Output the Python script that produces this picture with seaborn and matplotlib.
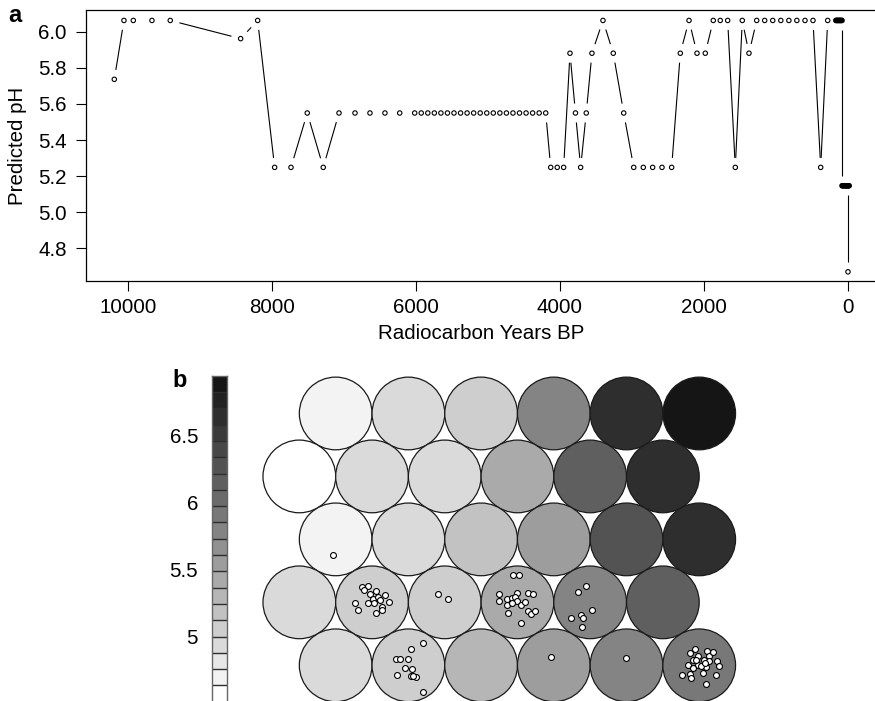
import numpy as np
import matplotlib
matplotlib.use("Agg")
import matplotlib.pyplot as plt
import seaborn as sns
from matplotlib.collections import LineCollection
from matplotlib.patches import Circle
from matplotlib.colors import LinearSegmentedColormap, BoundaryNorm

# ---------------- data: panel a ----------------
age_bp = [10190, 10056, 9926, 9667, 9413, 8435, 8199, 7963, 7736, 7510, 7288, 7069,
          6847, 6639, 6431, 6226,
          6018, 5927, 5836, 5745, 5654, 5563, 5472, 5381, 5290, 5199, 5108, 5017,
          4926, 4835, 4744, 4653, 4562, 4471, 4380, 4289, 4198,
          4129, 4038, 3949, 3861, 3785, 3713, 3635, 3556, 3403, 3260, 3115, 2976,
          2843, 2713, 2583, 2449, 2329, 2208, 2097, 1982, 1871, 1774, 1671, 1565,
          1468, 1375, 1268, 1157, 1045, 933, 821, 710, 597, 486, 379, 282,
          169, 161, 153, 145, 137, 129, 121, 113, 105, 97, 90, 83,
          83, 74, 65, 56, 47, 38, 29, 20, 11, 2, -7, -17, 0,
          0]
predicted_ph = [5.737, 6.064, 6.064, 6.064, 6.064, 5.963, 6.064, 5.248, 5.248, 5.55, 5.248, 5.55,
                5.55, 5.55, 5.55, 5.55,
                5.55, 5.55, 5.55, 5.55, 5.55, 5.55, 5.55, 5.55, 5.55, 5.55, 5.55, 5.55,
                5.55, 5.55, 5.55, 5.55, 5.55, 5.55, 5.55, 5.55, 5.55,
                5.248, 5.248, 5.248, 5.882, 5.55, 5.248, 5.55, 5.882, 6.064, 5.882, 5.55, 5.248,
                5.248, 5.248, 5.248, 5.248, 5.882, 6.064, 5.882, 5.882, 6.064, 6.064, 6.064, 5.248,
                6.064, 5.882, 6.064, 6.064, 6.064, 6.064, 6.064, 6.064, 6.064, 6.064, 5.248, 6.064,
                6.064, 6.064, 6.064, 6.064, 6.064, 6.064, 6.064, 6.064, 6.064, 6.064, 6.064, 6.064,
                5.146, 5.146, 5.146, 5.146, 5.146, 5.146, 5.146, 5.146, 5.146, 5.146, 5.146, 5.146, 5.146,
                4.668]
x_ticks = [10000, 8000, 6000, 4000, 2000, 0]
y_ticks = [4.8, 5.0, 5.2, 5.4, 5.6, 5.8, 6.0]
y_ticklabels = ["4.8", "5.0", "5.2", "5.4", "5.6", "5.8", "6.0"]

# ---------------- data: panel b (SOM, 5 rows x 6 cols, top row first) ----------------
som_ph = [
    [4.70, 4.94, 5.06, 5.79, 6.64, 6.88],
    [4.58, 4.94, 4.93, 5.43, 6.15, 6.64],
    [4.70, 4.95, 5.18, 5.55, 6.27, 6.63],
    [4.94, 5.06, 5.07, 5.42, 5.79, 6.15],
    [4.94, 5.06, 5.30, 5.55, 5.78, 5.91],
]
# mapped samples: unit row, unit col and jitter within the unit (grid units)
sample_row = [3]*17 + [3]*2 + [3]*20 + [3]*7 + [4]*12 + [4] + [4] + [4]*24 + [2]
sample_col = [1]*17 + [2]*2 + [3]*20 + [4]*7 + [1]*12 + [3] + [4] + [5]*24 + [0]
sample_dx = [-0.14, -0.05, 0.05, -0.03, 0.18, 0.02, 0.08, 0.23, -0.24, -0.06, 0.03, 0.14, -0.19, 0.05, 0.14, 0.11, -0.11,
             -0.09, 0.05,
             -0.06, 0.02, -0.25, -0.14, -0.25, -0.15, -0.08, -0.01, -0.04, 0.00, -0.08, 0.14, 0.22, 0.05, 0.10, 0.14, 0.19, 0.24, -0.13, 0.05,
             -0.06, -0.17, -0.12, -0.10, -0.26, 0.03, -0.11,
             0.20, 0.04, -0.17, -0.11, -0.01, -0.04, 0.05, -0.15, 0.03, 0.10, 0.06, 0.20,
             -0.04,
             -0.01,
             -0.06, -0.13, 0.11, -0.01, 0.14, -0.08, 0.06, 0.13, 0.24, -0.16, -0.02, 0.10, 0.27, -0.09, 0.03, 0.05, -0.24, -0.12, 0.23, -0.11, 0.09, 0.19, -0.04, 0.08,
             -0.04]
sample_dy = [0.21, 0.22, 0.16, 0.11, 0.10, 0.05, 0.08, 0.01, -0.01, -0.01, -0.01, -0.06, -0.10, -0.14, -0.10, 0.03, 0.17,
             0.11, 0.05,
             0.37, 0.37, 0.11, 0.04, 0.02, -0.03, 0.06, 0.13, 0.08, 0.02, -0.01, 0.13, 0.11, -0.04, 0.01, -0.12, -0.16, -0.12, -0.14, -0.28,
             0.22, 0.14, -0.17, -0.21, -0.22, -0.11, -0.34,
             0.31, 0.23, 0.08, 0.08, 0.09, -0.04, -0.05, -0.14, -0.15, -0.16, -0.15, -0.37,
             0.11,
             0.10,
             0.23, 0.17, 0.19, 0.13, 0.13, 0.07, 0.07, 0.06, 0.06, 0.00, 0.01, -0.02, -0.01, -0.04, -0.01, -0.10, -0.13, -0.12, -0.14, -0.18, -0.26, 0.18, 0.07, 0.03,
             -0.21]
cbar_ticks = [5, 5.5, 6, 6.5]
cbar_ticklabels = ["5", "5.5", "6", "6.5"]
cbar_range = (4.517, 6.941)
cbar_levels = 20

# ---------------- style ----------------
sns.set_theme(style="white")
plt.rcParams["font.family"] = ["Liberation Sans", "DejaVu Sans"]
plt.rcParams["text.color"] = "black"
FS = 14.8

W, H = 875, 701
fig = plt.figure(figsize=(W / 100, H / 100), dpi=100)

# ---------------- panel a ----------------
ax = fig.add_axes([86 / W, (H - 281) / H, 791 / W, 271 / H])
ax.set_xlim(10583, -403)
ax.set_ylim(4.617, 6.122)
sns.scatterplot(x=age_bp, y=predicted_ph, ax=ax, marker="o", s=10, linewidth=0.8,
                edgecolor="black", legend=False, zorder=3)
coll = ax.collections[-1]
coll.set_facecolor("none")
coll.set_edgecolor("black")

# R type="b": line segments with gaps around the points
pts = ax.transData.transform(np.column_stack([age_bp, predicted_ph]))
gap = 9.5
segs = []
for p0, p1 in zip(pts[:-1], pts[1:]):
    d = p1 - p0
    L = np.hypot(d[0], d[1])
    if L > 2 * gap:
        u = d / L
        segs.append(np.array([p0 + u * gap, p1 - u * gap]))
inv = ax.transData.inverted()
segs = [inv.transform(s) for s in segs]
ax.add_collection(LineCollection(segs, colors="black", linewidths=0.8, zorder=2))

ax.set_xticks(x_ticks)
ax.set_xticklabels([str(t) for t in x_ticks])
ax.set_yticks(y_ticks)
ax.set_yticklabels(y_ticklabels)
ax.tick_params(axis="both", which="both", bottom=True, left=True, top=False, right=False,
               direction="out", length=7, width=0.8, color="black", labelsize=FS, labelcolor="black")
ax.tick_params(axis="x", pad=5)
ax.tick_params(axis="y", pad=7)
for sp in ax.spines.values():
    sp.set_color("black")
    sp.set_linewidth(0.9)
ax.set_xlabel("Radiocarbon Years BP", fontsize=FS, color="black")
ax.set_ylabel("Predicted pH", fontsize=FS, color="black")
ax.xaxis.set_label_coords(0.5, -0.158)
ax.yaxis.set_label_coords(-0.075, 0.5)
fig.text(8 / W, 1 - 22 / H, "a", fontsize=17, fontweight="bold", color="black",
         ha="left", va="baseline")

# ---------------- panel b ----------------
cmap = LinearSegmentedColormap.from_list("greys_r", ["#ffffff", "#151515"])
bounds = np.linspace(cbar_range[0], cbar_range[1], cbar_levels + 1)
norm = BoundaryNorm(bounds, cmap.N)

axb = fig.add_axes([260 / W, 0, 480 / W, 331 / H])
nrows = len(som_ph)
hstep = np.sqrt(3) / 2
for r, row in enumerate(som_ph):
    for c, val in enumerate(row):
        cx = c + (0.5 if r % 2 == 0 else 0.0)
        cy = (nrows - 1 - r) * hstep
        axb.add_patch(Circle((cx, cy), 0.5, facecolor=cmap(norm(val)),
                             edgecolor="#1a1a1a", linewidth=0.9, zorder=1))

sx = [c + (0.5 if r % 2 == 0 else 0.0) + dx for r, c, dx in zip(sample_row, sample_col, sample_dx)]
sy = [(nrows - 1 - r) * hstep + dy for r, dy in zip(sample_row, sample_dy)]
sns.scatterplot(x=sx, y=sy, ax=axb, marker="o", s=18, color="white", edgecolor="black",
                linewidth=0.8, legend=False, zorder=3)
axb.set_xlim(-0.541, 6.061)
axb.set_ylim(-0.491, 4.062)
axb.axis("off")

# colour key
axc = fig.add_axes([212 / W, -0.7 / H, 15.3 / W, 326 / H])
centers = (bounds[:-1] + bounds[1:]) / 2
axc.pcolormesh([0, 1], bounds, centers.reshape(-1, 1), cmap=cmap, norm=norm,
               edgecolors="none", antialiased=False)
axc.hlines(bounds[1:-1], 0, 1, colors="#2e2e2e", linewidth=1.0)
axc.set_xlim(0, 1)
axc.set_ylim(cbar_range[0], cbar_range[1])
axc.set_xticks([])
axc.set_yticks(cbar_ticks)
axc.set_yticklabels(cbar_ticklabels)
axc.tick_params(axis="y", left=True, length=0, pad=10, labelsize=FS, labelcolor="black")
for sp in axc.spines.values():
    sp.set_color("#666666")
    sp.set_linewidth(1.0)
fig.text(172 / W, 1 - 387 / H, "b", fontsize=17, fontweight="bold", color="black",
         ha="left", va="baseline")

fig.savefig("out.png", dpi=100)
